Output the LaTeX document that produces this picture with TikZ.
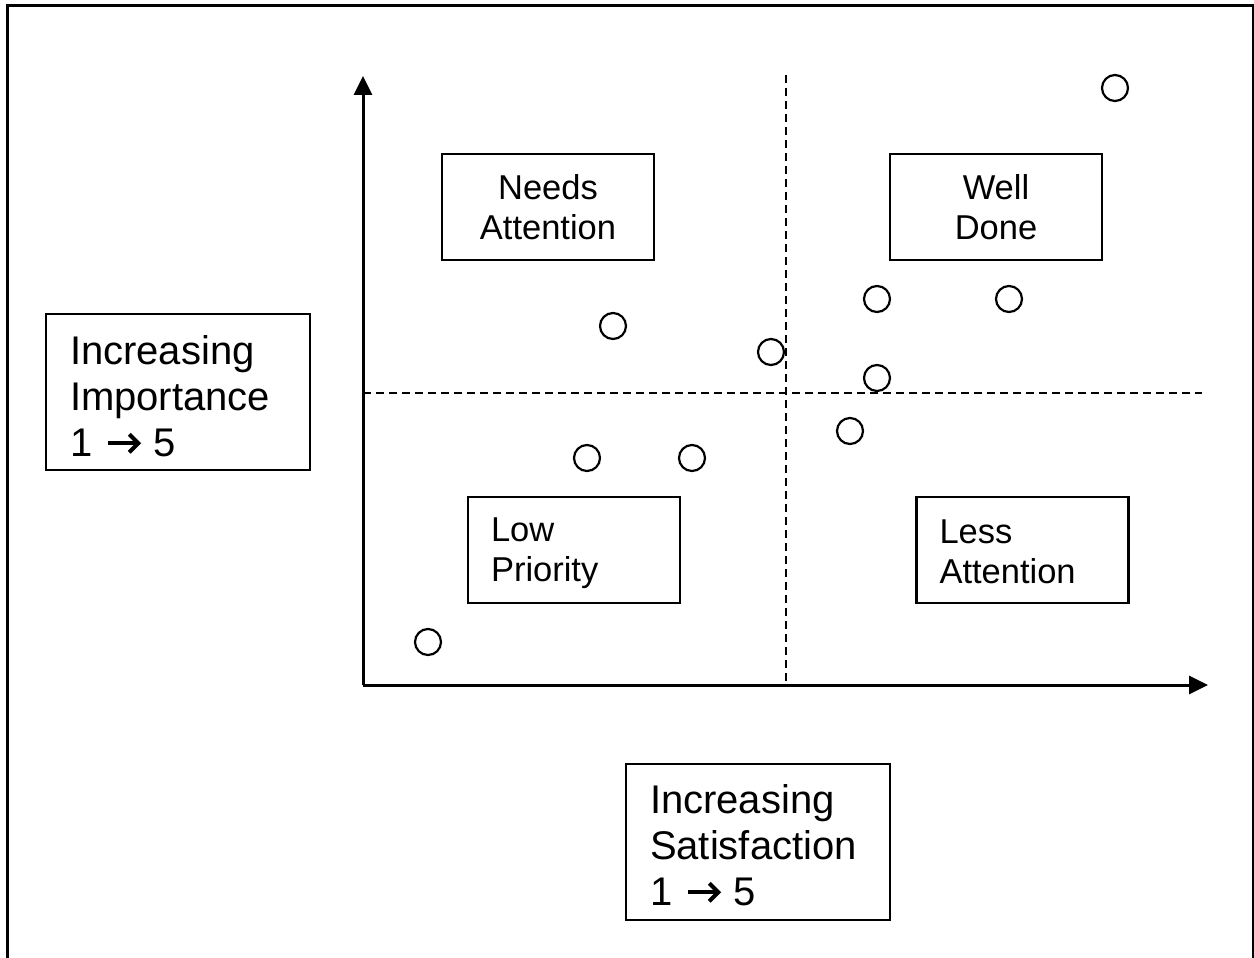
\documentclass[tikz,border=0pt]{standalone}
\usepackage{fontspec}
\setmainfont{Liberation Sans}
\usetikzlibrary{arrows.meta}
\newcommand{\rarr}{\hspace{14pt}\tikz[baseline=0pt,x=1pt,y=1pt]{\draw[line width=4pt,line cap=butt] (0,13)--(30,13); \draw[line width=4pt,line join=miter] (21,22)--(30,13)--(21,4);}\hspace{13pt}}
\begin{document}
\begin{tikzpicture}[x=1pt,y=-1pt,
  bigframe/.style={draw, line width=2.2pt, minimum height=156pt, minimum width=264pt, inner sep=0pt},
  bigtext/.style={text width=216pt, inner sep=0pt, align=left, font=\fontsize{40}{46}\selectfont},
  quadframe/.style={draw, line width=2.2pt, minimum height=106pt, minimum width=212pt, inner sep=0pt},
  quadtext/.style={text width=166pt, inner sep=0pt, font=\fontsize{34.5}{40}\selectfont},
  axis/.style={line width=3pt, -{Triangle[length=19pt,width=18pt]}},
  divider/.style={line width=2pt, dash pattern=on 8pt off 5pt},
  pt/.style={circle, draw, line width=2.2pt, minimum size=26pt, inner sep=0pt}]
\useasboundingbox (0,0) rectangle (1254,958);
\draw[line width=3pt] (7,960) -- (7,6) -- (1253.5,6) -- (1253.5,960);
% axes
\coordinate (O) at (363,685);
\coordinate (ytip) at (363,76);
\coordinate (xtip) at (1208,685);
\coordinate (vtop) at (786,75);
\coordinate (vbot) at (786,685);
\coordinate (hl) at (363,393);
\coordinate (hr) at (1202,393);
\draw[divider] (vtop) -- (vbot);
\draw[divider] (hl) -- (hr);
\draw[axis] (O) -- (ytip);
\draw[axis] (O) -- (xtip);
% labels
\node[bigframe] (imp) at (178,392) {};
\node[bigtext] (impt) at (178,396) {Increasing\\Importance\\1\rarr{}5};
\node[bigframe] (sat) at (758,842) {};
\node[bigtext] (satt) at (758,845) {Increasing\\Satisfaction\\1\rarr{}5};
\node[quadframe] (needs) at (548,207) {};
\node[quadtext, align=center] (needst) at (548,207) {Needs\\Attention};
\node[quadframe] (well) at (996,207) {};
\node[quadtext, align=center] (wellt) at (996,207) {Well\\Done};
\node[quadframe] (low) at (574,550) {};
\node[quadtext, align=left] (lowt) at (574,553) {Low\\Priority};
\node[quadframe] (less) at (1022.5,550) {};
\node[quadtext, align=left] (lesst) at (1022.5,552) {Less\\Attention};
% points
\node[pt] (p1) at (1115,88) {};
\node[pt] (p2) at (877,299) {};
\node[pt] (p3) at (1009,299) {};
\node[pt] (p4) at (613,326) {};
\node[pt] (p5) at (771,352) {};
\node[pt] (p6) at (877,378) {};
\node[pt] (p7) at (850,431) {};
\node[pt] (p8) at (587,458) {};
\node[pt] (p9) at (692,458) {};
\node[pt] (p10) at (428,642) {};
\end{tikzpicture}
\end{document}
